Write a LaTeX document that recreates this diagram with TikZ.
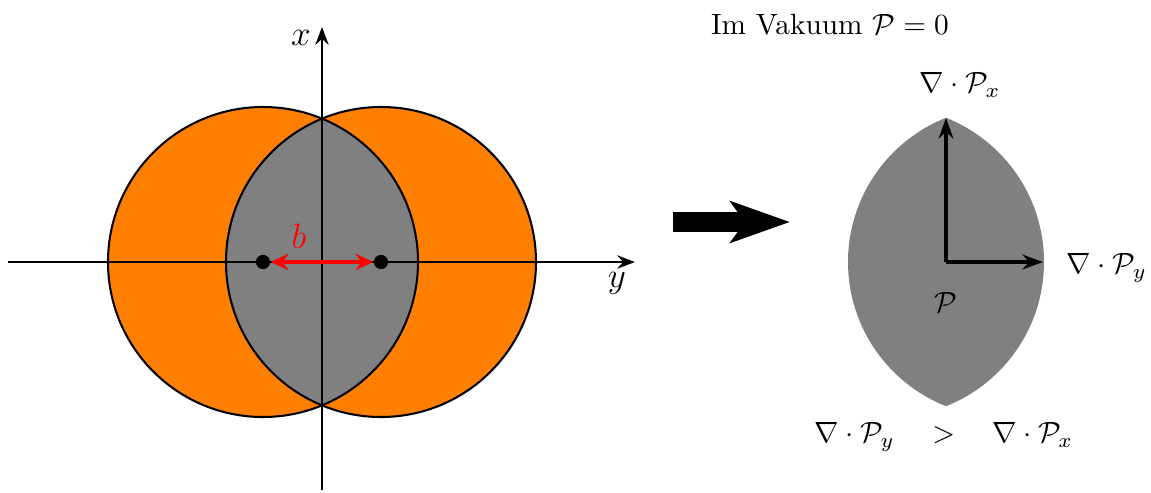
\documentclass[tikz,border=0pt]{standalone}
\usepackage{amsmath,amssymb}
\usepackage{tikz}
\usetikzlibrary{arrows.meta, positioning, calc}
\usepackage{xcolor}
\definecolor{lensgray}{HTML}{808080}
\definecolor{ringorange}{HTML}{FF8000}

\begin{document}
\begin{tikzpicture}[
  x=0.012cm, y=0.012cm,
  axis/.style={line width=1pt, -{Stealth[length=6pt, width=4.5pt]}},
  ring/.style={draw=black, line width=0.7pt},
  dot/.style={circle, fill=black, inner sep=0pt, minimum size=0.17cm},
  field/.style={line width=1.4pt, -{Stealth[length=7pt, width=5pt]}},
]
  \useasboundingbox (-322,-230) rectangle (829,262);
  % left: two overlapping spheres
  \fill[ringorange] (-59,0) circle[radius=155];
  \fill[ringorange] (59,0) circle[radius=155];
  \begin{scope}
    \clip (-59,0) circle[radius=155];
    \fill[lensgray] (59,0) circle[radius=155];
  \end{scope}
  \draw[ring] (-59,0) circle[radius=155];
  \draw[ring] (59,0) circle[radius=155];
  \coordinate (yL) at (-314,0);
  \coordinate (yR) at (313,0);
  \coordinate (xB) at (0,-228);
  \coordinate (xT) at (0,235);
  \draw[axis] (yL) -- (yR);
  \draw[axis] (xB) -- (xT);
  \node (xlab) at (-21,224) {\large$x$};
  \node (ylab) at (295,-21) {\large$y$};
  \node[dot] (qL) at (-59,0) {};
  \node[dot] (qR) at (59,0) {};
  \draw[red, line width=1.6pt, {Stealth[length=6pt, width=5.5pt]}-{Stealth[length=6pt, width=5.5pt]}] (qL) -- (qR);
  \node[red] (blab) at (-23,26) {\large$b$};
  % big arrow
  \coordinate (bigA) at (351,40);
  \coordinate (bigB) at (468,40);
  \draw[line width=0.25cm, -{Stealth[length=0.71cm, width=0.49cm, inset=0.17cm]}] (bigA) -- (bigB);
  % right: polarised lens
  \begin{scope}
    \clip (567,0) circle[radius=155];
    \fill[lensgray] (681,0) circle[radius=155];
  \end{scope}
  \coordinate (P0) at (624,0);
  \coordinate (Px) at (624,144);
  \coordinate (Py) at (721,0);
  \draw[field] (P0) -- (Px);
  \draw[field] (P0) -- (Py);
  \node (Plab) at (624,-40) {$\mathcal{P}$};
  \node (Pxlab) at (638,177) {$\nabla\cdot\mathcal{P}_x$};
  \node (Pylab) at (785,-6) {$\nabla\cdot\mathcal{P}_y$};
  \node (vac) at (508,237) {Im Vakuum $\mathcal{P}=0$};
  \node (cmp) at (622,-175) {$\nabla\cdot\mathcal{P}_y \quad > \quad \nabla\cdot\mathcal{P}_x$};
\end{tikzpicture}
\end{document}
